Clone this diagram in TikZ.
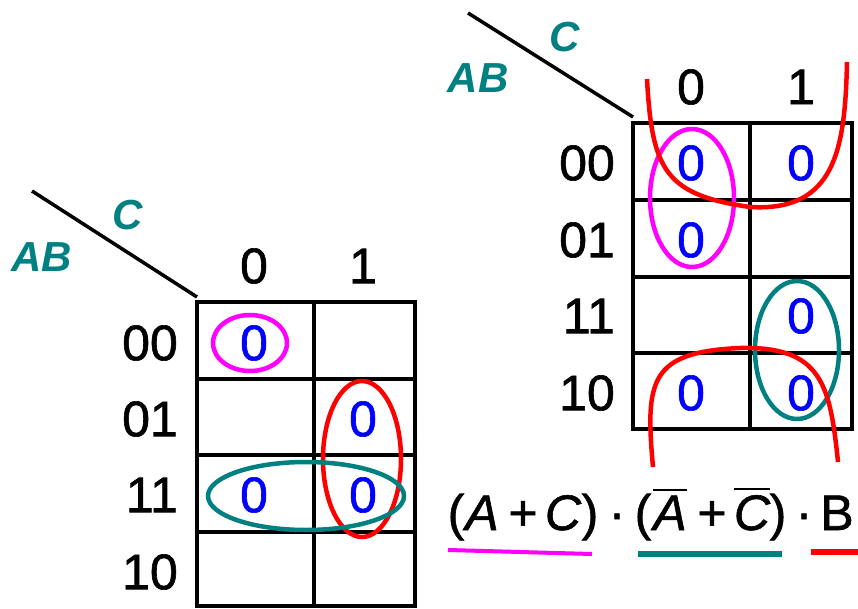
\documentclass[tikz,border=0pt]{standalone}
\usepackage{fontspec}
\setmainfont{Liberation Sans}
\newfontfamily\heavy[FakeBold=1.2]{Liberation Sans}
\definecolor{kteal}{RGB}{0,128,128}
\definecolor{kmag}{RGB}{255,0,255}
\definecolor{kred}{RGB}{255,0,0}
\definecolor{kblue}{RGB}{0,0,255}
\newcommand\obar[1]{\vbox{\hrule height 2pt\kern 5pt\hbox{#1}}}
\begin{document}
\begin{tikzpicture}[x=1pt,y=-1pt,
  lbl/.style={inner sep=0pt, font=\fontsize{50}{60}\heavy},
  rowlbl/.style={lbl, anchor=east},
  val/.style={lbl, text=kblue},
  var/.style={inner sep=0pt, text=kteal, font=\fontsize{42}{50}\selectfont\bfseries\itshape},
  frm/.style={inner sep=0pt, anchor=base, font=\fontsize{50}{60}\heavy},
  gridline/.style={line width=4.5pt},
  diag/.style={line width=3.5pt},
  loop/.style={line width=4.5pt}]
\useasboundingbox (0,0) rectangle (858,609);

% ---------- left map ----------
\draw[gridline] (197,302) rectangle (415,606);
\draw[gridline] (314,302) -- (314,606);
\draw[gridline] (197,379) -- (415,379);
\draw[gridline] (197,455) -- (415,455);
\draw[gridline] (197,532) -- (415,532);
\coordinate (L0) at (32,191);
\coordinate (L1) at (197,297);
\draw[diag] (L0) -- (L1);
\node[var] (lC) at (128,215) {C};
\node[var] (lAB) at (42,257) {AB};
\node[lbl] (lc0) at (254,266) {0};
\node[lbl] (lc1) at (363,266) {1};
\node[rowlbl] (lr0) at (178,343) {00};
\node[rowlbl] (lr1) at (178,419) {01};
\node[rowlbl] (lr2) at (178,495) {11};
\node[rowlbl] (lr3) at (178,572) {10};
\draw[loop, kmag] (250,343) ellipse [x radius=37, y radius=28];
\draw[loop, kred] (362,459) ellipse [x radius=39, y radius=78];
\draw[loop, kteal] (306,496) ellipse [x radius=98, y radius=34];
\node[val] (lv1) at (254,343) {0};
\node[val] (lv2) at (363,419) {0};
\node[val] (lv3) at (254,495) {0};
\node[val] (lv4) at (363,495) {0};

% ---------- right map ----------
\draw[gridline] (633,123) rectangle (852,429);
\draw[gridline] (750,123) -- (750,429);
\draw[gridline] (633,200) -- (852,200);
\draw[gridline] (633,277) -- (852,277);
\draw[gridline] (633,353) -- (852,353);
\coordinate (R0) at (468,13);
\coordinate (R1) at (633,117);
\draw[diag] (R0) -- (R1);
\node[var] (rC) at (565,37) {C};
\node[var] (rAB) at (478,78) {AB};
\node[lbl] (rc0) at (691,87) {0};
\node[lbl] (rc1) at (801,87) {1};
\node[rowlbl] (rr0) at (615,163) {00};
\node[rowlbl] (rr1) at (615,240) {01};
\node[rowlbl] (rr2) at (615,316) {11};
\node[rowlbl] (rr3) at (615,393) {10};
\draw[loop, kmag] (692,198) ellipse [x radius=42, y radius=69];
\draw[loop, kteal] (797,350) ellipse [x radius=42, y radius=69];
\draw[loop, kred] (647,79) .. controls (652,170) and (665,195) .. (750,207)
   .. controls (835,212) and (845,150) .. (847,62);
\draw[loop, kred] (653,467) .. controls (645,380) and (650,352) .. (740,348)
   .. controls (822,346) and (830,385) .. (838,462);
\node[val] (rv1) at (691,163) {0};
\node[val] (rv2) at (801,163) {0};
\node[val] (rv3) at (691,240) {0};
\node[val] (rv4) at (801,316) {0};
\node[val] (rv5) at (691,393) {0};
\node[val] (rv6) at (801,393) {0};

% ---------- formula ----------
\node[frm] (f1) at (456,530) {(};
\node[frm] (f2) at (482,530) {\itshape A};
\node[frm] (f3) at (523,530) {+};
\node[frm] (f4) at (563,530) {\itshape C};
\node[frm] (f5) at (590,530) {)};
\node[frm] (f6) at (617,530) {·};
\node[frm] (f7) at (643,530) {(};
\node[frm] (f8) at (670,530) {\obar{\itshape A}};
\node[frm] (f9) at (712,530) {+};
\node[frm] (f10) at (752,530) {\obar{\itshape C}};
\node[frm] (f11) at (778,530) {)};
\node[frm] (f12) at (804,530) {·};
\node[frm] (f13) at (837,530) {B};
\draw[line width=4pt, kmag] (448,550) -- (592,554);
\draw[line width=6pt, kteal] (638,554) -- (782,554);
\draw[line width=6pt, kred] (811,552) -- (858,552);
\end{tikzpicture}
\end{document}
